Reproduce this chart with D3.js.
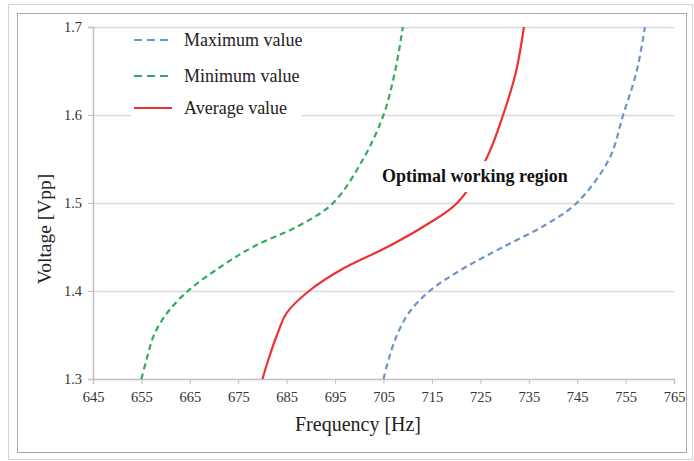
<!DOCTYPE html>
<html>
<head>
<meta charset="utf-8">
<script src="https://cdn.jsdelivr.net/npm/d3@7"></script>
<style>
  body { margin: 0; background: #fff; }
  text { font-family: "Liberation Serif", "Times New Roman", serif; }
</style>
</head>
<body>
<div id="chart"></div>
<script>
// Voltage levels (y) shared by all series
const voltages = [1.3, 1.325, 1.35, 1.375, 1.4, 1.425, 1.45, 1.475, 1.5, 1.55, 1.6, 1.65, 1.7];

// Frequency [Hz] for each voltage
const maxFreq = [705, 706.2, 707.8, 710.2, 714.5, 721.3, 729.7, 738.4, 744.9, 751.6, 754.5, 757.3, 759];
const minFreq = [655, 656.2, 657.6, 660.3, 664.6, 670.7, 678, 687.8, 694.6, 700.8, 705, 707.4, 709];
const avgFreq = [680, 681.4, 683, 685, 689.6, 696.5, 705.8, 713.8, 720.2, 726.2, 729.7, 732.4, 734];

// Axis ticks
const xTicks = [645, 655, 665, 675, 685, 695, 705, 715, 725, 735, 745, 755, 765];
const yTicks = [1.3, 1.4, 1.5, 1.6, 1.7];

const series = [
  { name: "Maximum value", values: maxFreq, color: "#6d93cc", dash: "6,4" },
  { name: "Minimum value", values: minFreq, color: "#2fac60", dash: "6,4" },
  { name: "Average value", values: avgFreq, color: "#ec3232", dash: null }
];

const W = 694, H = 461;
const margin = { top: 27, right: 20, bottom: 82, left: 93 };
const width = 674 - margin.left;
const height = 379 - margin.top;

const svg = d3.select("#chart").append("svg")
  .attr("width", W)
  .attr("height", H);

// outer frames
svg.append("rect")
  .attr("x", 8.5).attr("y", 4.5).attr("width", 684).attr("height", 455)
  .attr("fill", "none").attr("stroke", "#d4d4d4");
svg.append("rect")
  .attr("x", 17.5).attr("y", 13.5).attr("width", 669).attr("height", 439)
  .attr("fill", "#fff").attr("stroke", "#a9a9a9");

const g = svg.append("g").attr("transform", `translate(${margin.left},${margin.top})`);

const x = d3.scaleLinear().domain([645, 765]).range([0, width]);
const y = d3.scaleLinear().domain([1.3, 1.7]).range([height, 0]);

// gridlines
g.selectAll(".grid")
  .data(yTicks.filter(d => d > 1.3))
  .enter().append("line")
  .attr("x1", 0).attr("x2", width)
  .attr("y1", d => Math.round(y(d)) + 0.5).attr("y2", d => Math.round(y(d)) + 0.5)
  .attr("stroke", "#d9d9d9").attr("stroke-width", 1.5);

// X axis
const xAxis = g.append("g")
  .attr("transform", `translate(0,${height})`)
  .call(d3.axisBottom(x).tickValues(xTicks).tickSize(5).tickPadding(8).tickFormat(d3.format("d")));
xAxis.selectAll("text").style("font-size", "14.5px").attr("fill", "#333");

// Y axis
const yAxis = g.append("g")
  .call(d3.axisLeft(y).tickValues(yTicks).tickSize(5).tickPadding(6).tickFormat(d3.format(".1f")));
yAxis.selectAll("text").style("font-size", "14.5px").attr("fill", "#333");

[xAxis, yAxis].forEach(a => {
  a.select(".domain").attr("stroke", "#bfbfbf").attr("stroke-width", 1.5);
  a.selectAll(".tick line").attr("stroke", "#bfbfbf");
});

// Axis titles
svg.append("text")
  .attr("x", 358).attr("y", 431)
  .attr("text-anchor", "middle")
  .style("font-size", "20px")
  .attr("fill", "#222")
  .text("Frequency [Hz]");

svg.append("text")
  .attr("transform", "translate(51,229) rotate(-90)")
  .attr("text-anchor", "middle")
  .style("font-size", "19.5px")
  .attr("fill", "#222")
  .text("Voltage [Vpp]");

// Lines
const line = d3.line()
  .x(d => x(d[1]))
  .y(d => y(d[0]))
  .curve(d3.curveCatmullRom.alpha(0.5));

series.forEach(s => {
  g.append("path")
    .datum(voltages.map((v, i) => [v, s.values[i]]))
    .attr("fill", "none")
    .attr("stroke", s.color)
    .attr("stroke-width", 2.2)
    .attr("stroke-dasharray", s.dash)
    .attr("d", line);
});

// Annotation with white background
const ann = svg.append("g");
ann.append("rect")
  .attr("x", 378).attr("y", 161).attr("width", 196).attr("height", 31)
  .attr("fill", "#fff");
ann.append("text")
  .attr("x", 382).attr("y", 182)
  .style("font-size", "18px")
  .style("font-weight", "bold")
  .attr("fill", "#111")
  .text("Optimal working region");

// Legend
const legend = svg.append("g");
legend.append("rect")
  .attr("x", 131).attr("y", 30).attr("width", 171).attr("height", 92)
  .attr("fill", "#fff");
const legendY = [40, 76, 108];
series.forEach((s, i) => {
  legend.append("line")
    .attr("x1", 134).attr("x2", 172)
    .attr("y1", legendY[i]).attr("y2", legendY[i])
    .attr("stroke", s.color)
    .attr("stroke-width", 2.2)
    .attr("stroke-dasharray", s.dash ? "8,5" : null);
  legend.append("text")
    .attr("x", 184).attr("y", legendY[i] + 6)
    .style("font-size", "18px")
    .attr("fill", "#222")
    .text(s.name);
});
</script>
</body>
</html>
